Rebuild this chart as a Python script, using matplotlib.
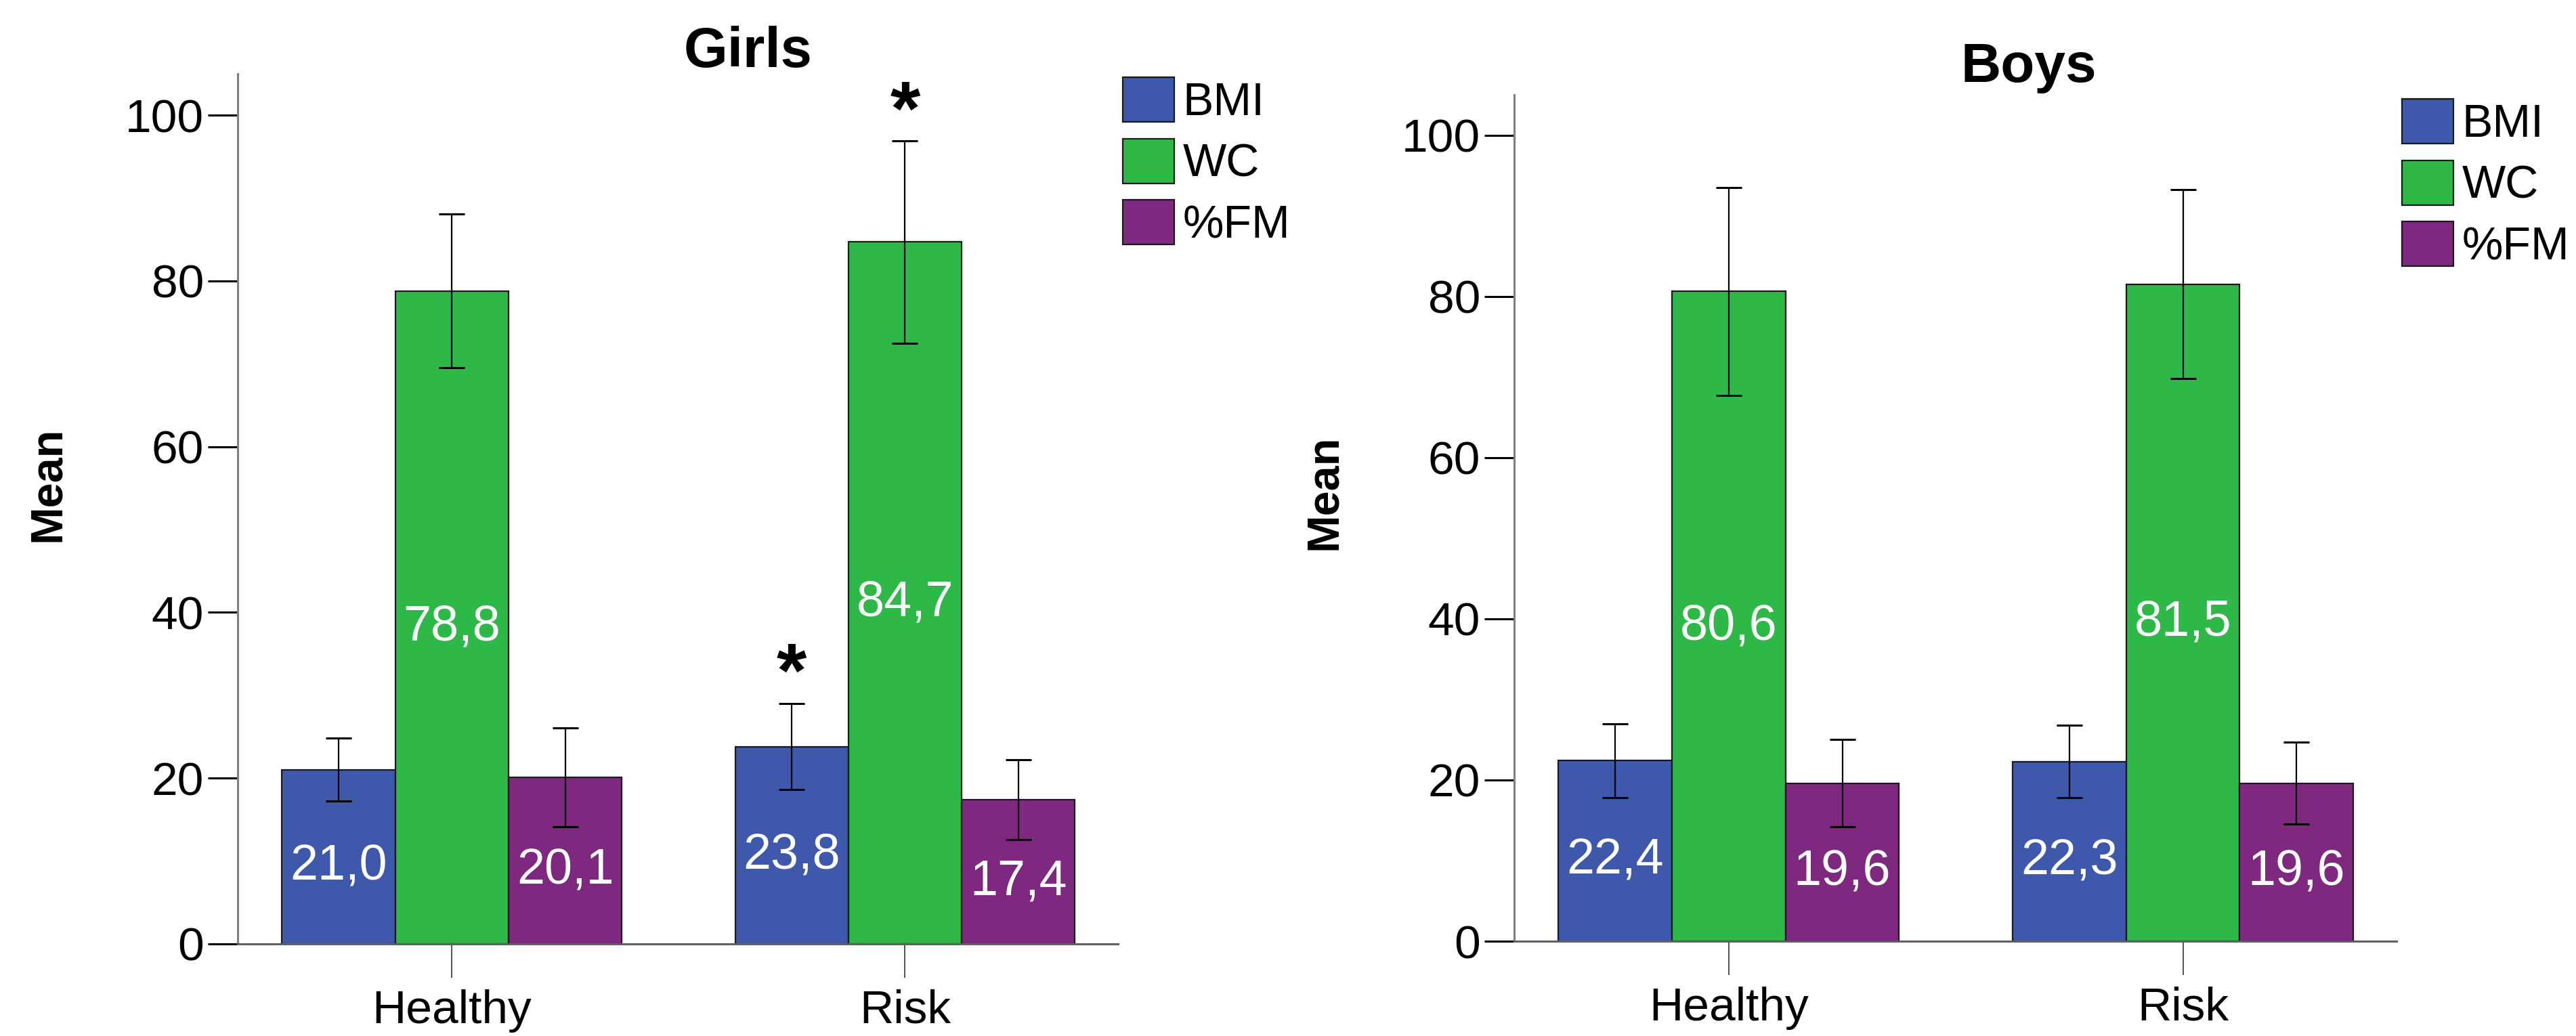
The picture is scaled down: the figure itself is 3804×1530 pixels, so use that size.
import numpy as np
import matplotlib
matplotlib.use("Agg")
import matplotlib.pyplot as plt

plt.rcParams['font.family'] = ['Liberation Sans', 'DejaVu Sans']

# Datos
groups = ["Healthy", "Risk"]
series = ["BMI", "WC", "%FM"]
colors = ["#3E58AC", "#2EB848", "#7E2880"]

girls_bmi = [21.0, 23.8]
girls_wc = [78.8, 84.7]
girls_fm = [20.1, 17.4]
girls_bmi_err = [3.8, 5.2]
girls_wc_err = [9.3, 12.2]
girls_fm_err = [6.0, 4.8]

boys_bmi = [22.4, 22.3]
boys_wc = [80.6, 81.5]
boys_fm = [19.6, 19.6]
boys_bmi_err = [4.6, 4.5]
boys_wc_err = [12.9, 11.7]
boys_fm_err = [5.4, 5.1]

# asteriscos de significancia: (grupo, serie)
girls_stars = [(1, 0), (1, 1)]
boys_stars = []

fig = plt.figure(figsize=(38.04, 15.30), dpi=100)

ax_g = fig.add_axes([0.0923, 0.0889, 0.3417, 1 - 109 / 1530 - 0.0889])
ax_b = fig.add_axes([0.5878, 0.0915, 0.3425, 1 - 140 / 1530 - 0.0915])


def draw_panel(ax, means, errs, stars, legend_xy):
    centers = np.arange(len(groups)) * 4.0
    offsets = [-1, 0, 1]
    handles = []
    for i, (vals, err) in enumerate(zip(means, errs)):
        x = centers + offsets[i]
        b = ax.bar(x, vals, width=1.0, color=colors[i], edgecolor="#1a1a1a",
                   linewidth=1.6, label=series[i], zorder=2)
        handles.append(b)
        ax.errorbar(x, vals, yerr=err, fmt="none", ecolor="black",
                    elinewidth=1.6, capsize=14, capthick=2.2, zorder=3)
        for xi, v in zip(x, vals):
            ax.text(xi, v / 2 - 1.2, f"{v:.1f}".replace(".", ","),
                    ha="center", va="center", color="white", fontsize=53,
                    zorder=4)
    for g, s in stars:
        top = means[s][g] + errs[s][g]
        ax.text(centers[g] + offsets[s], top + 0.8, "*", ha="center",
                va="baseline", fontsize=82, fontweight="bold", zorder=4)

    ax.set_xlim(-1.89, 5.88)
    ax.set_ylim(0, 105)
    ax.set_yticks([0, 20, 40, 60, 80, 100])
    ax.set_xticks(centers)
    ax.set_xticklabels(groups)
    ax.spines["top"].set_visible(False)
    ax.spines["right"].set_visible(False)
    ax.spines["left"].set_color("#808080")
    ax.spines["bottom"].set_color("#606060")
    ax.spines["left"].set_linewidth(2.2)
    ax.spines["bottom"].set_linewidth(2.2)
    ax.tick_params(axis="y", direction="out", length=32, width=2.2,
                   labelsize=50, pad=4, color="black")
    ax.tick_params(axis="x", direction="out", length=36, width=1.2,
                   labelsize=50, pad=12, color="#333333")
    ax.set_ylabel("Mean", fontsize=48, fontweight="bold")

    fig.legend(handles=handles, loc="upper left",
               bbox_to_anchor=legend_xy, bbox_transform=fig.transFigure,
               frameon=False, fontsize=49, handlelength=1.12,
               handleheight=1.12, handletextpad=0.18, labelspacing=0.3,
               borderpad=0, borderaxespad=0)


draw_panel(ax_g, [girls_bmi, girls_wc, girls_fm],
           [girls_bmi_err, girls_wc_err, girls_fm_err], girls_stars,
           (1658 / 3804, 1 - 114 / 1530))
draw_panel(ax_b, [boys_bmi, boys_wc, boys_fm],
           [boys_bmi_err, boys_wc_err, boys_fm_err], boys_stars,
           (3547 / 3804, 1 - 146 / 1530))

ax_g.yaxis.set_label_coords(102 / 3804, 1 - 715 / 1530, transform=fig.transFigure)
ax_b.yaxis.set_label_coords(1987 / 3804, 1 - 727 / 1530, transform=fig.transFigure)

fig.text(1105 / 3804, 1 - 77 / 1530, "Girls", ha="center", va="center",
         fontsize=60, fontweight="bold")
fig.text(2996 / 3804, 1 - 100 / 1530, "Boys", ha="center", va="center",
         fontsize=59, fontweight="bold")

fig.savefig("out.png", dpi=100, facecolor="white")
